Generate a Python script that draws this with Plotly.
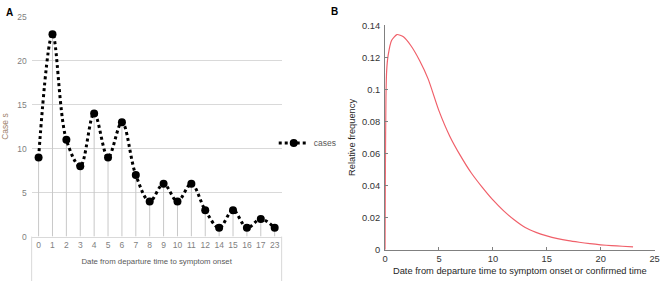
import plotly.graph_objects as go

# Panel A data
days = ['0', '1', '2', '3', '4', '5', '6', '7', '8', '9', '10', '11', '12', '14', '15', '16', '17', '23']
cases = [9, 23, 11, 8, 14, 9, 13, 7, 4, 6, 4, 6, 3, 1, 3, 1, 2, 1]

# Panel B data
t_days = [0, 0.03, 0.08, 0.15, 0.28, 0.6, 1.1, 1.7, 2.4, 3.2, 4.0, 5.0, 6.0, 7.0, 8.0, 9.0, 10.0,
          11.0, 12.0, 13.0, 14.0, 15.0, 16.0, 17.0, 18.0, 19.0, 20.0, 21.0, 22.0, 23.0]
rel_freq = [0.0, 0.05, 0.095, 0.112, 0.121, 0.1305, 0.1342, 0.1328, 0.1272, 0.118, 0.1064, 0.0866,
            0.0708, 0.0585, 0.0478, 0.039, 0.031, 0.0242, 0.0185, 0.0138, 0.0108, 0.0086, 0.0069,
            0.0056, 0.0046, 0.0037, 0.003, 0.0025, 0.0021, 0.0017]

W, H = 669, 286
def px(x):
    return x / W
def py(y):
    return (H - y) / H

fig = go.Figure()

# drop lines
drop_x, drop_y = [], []
for d, c in zip(days, cases):
    drop_x += [d, d, None]
    drop_y += [0, c, None]
fig.add_trace(go.Scatter(x=drop_x, y=drop_y, mode='lines', line=dict(color='#c8c8c8', width=1),
                         showlegend=False, hoverinfo='skip', xaxis='x', yaxis='y'))
fig.add_trace(go.Scatter(x=days, y=cases, mode='lines+markers', name='cases',
                         line=dict(color='black', width=3, dash='dot', shape='spline', smoothing=1.0),
                         marker=dict(color='black', size=8), xaxis='x', yaxis='y'))

fig.add_trace(go.Scatter(x=t_days, y=rel_freq, mode='lines', line=dict(color='#f0606a', width=1.2, shape='spline', smoothing=0.6),
                         showlegend=False, xaxis='x2', yaxis='y2'))

fontA = 'Liberation Sans, Arial, sans-serif'
fontB = 'Liberation Sans, Arial, sans-serif'

fig.update_layout(
    width=W, height=H, margin=dict(l=0, r=0, t=0, b=0),
    paper_bgcolor='white', plot_bgcolor='white',
    showlegend=True,
    legend=dict(x=px(274), y=py(143), xanchor='left', yanchor='middle', bgcolor='rgba(0,0,0,0)',
                font=dict(family=fontA, size=8.5, color='#595959'), itemwidth=30),
    xaxis=dict(domain=[px(29), px(282)], type='category', range=[-0.5, 17.5], showgrid=False,
               showline=True, linecolor='#d9d9d9', linewidth=1, ticks='', zeroline=False,
               tickfont=dict(family=fontA, size=8.5, color='#7f7f7f'),
               title=dict(text='Date from departure time to symptom onset', standoff=9,
                          font=dict(family=fontA, size=7.8, color='#595959'))),
    yaxis=dict(domain=[py(240), py(12)], range=[0, 25], dtick=5, showgrid=True, gridcolor='#d9d9d9',
               zeroline=False, showline=False, ticks='',
               tickfont=dict(family=fontA, size=8.5, color='#7f7f7f'), ticklabelstandoff=4,
               title=dict(text='Case s', standoff=8, font=dict(family=fontA, size=8.5, color='#a0846c'))),
    xaxis2=dict(domain=[px(386.7), px(659.5)], anchor='y2', range=[0, 25], dtick=5, showgrid=False,
                zeroline=False, showline=True, linecolor='#808080', linewidth=1, ticks='inside', ticklen=3,
                tickcolor='#808080', tickfont=dict(family=fontB, size=9.3, color='#333333'),
                title=dict(text='Date from departure time to symptom onset or confirmed time', standoff=4,
                           font=dict(family=fontB, size=9.3, color='#262626'))),
    yaxis2=dict(domain=[py(253.5), py(21)], anchor='x2', range=[0, 0.14], dtick=0.02, showgrid=False,
                zeroline=False, showline=True, linecolor='#808080', linewidth=1, ticks='inside', ticklen=3,
                tickcolor='#808080', tickfont=dict(family=fontB, size=9.3, color='#333333'),
                tickformat='~g', ticklabelstandoff=2,
                title=dict(text='Relative frequency', standoff=4,
                           font=dict(family=fontB, size=9.3, color='#262626'))),
    shapes=[
        dict(type='line', xref='paper', yref='paper', x0=px(29), x1=px(29), y0=py(240), y1=py(286),
             line=dict(color='#d9d9d9', width=1)),
        dict(type='line', xref='paper', yref='paper', x0=px(282), x1=px(282), y0=py(240), y1=py(286),
             line=dict(color='#d9d9d9', width=1)),
    ],
    annotations=[
        dict(text='<b>A</b>', xref='paper', yref='paper', x=px(1), y=py(8), xanchor='left', yanchor='middle',
             showarrow=False, font=dict(family=fontB, size=10, color='black')),
        dict(text='<b>B</b>', xref='paper', yref='paper', x=px(330), y=py(7), xanchor='left', yanchor='middle',
             showarrow=False, font=dict(family=fontB, size=10, color='black')),
    ],
)

fig.write_html('out.html', config={'displayModeBar': False},
               post_script="document.body.style.margin='0px';document.body.style.overflow='hidden';")
